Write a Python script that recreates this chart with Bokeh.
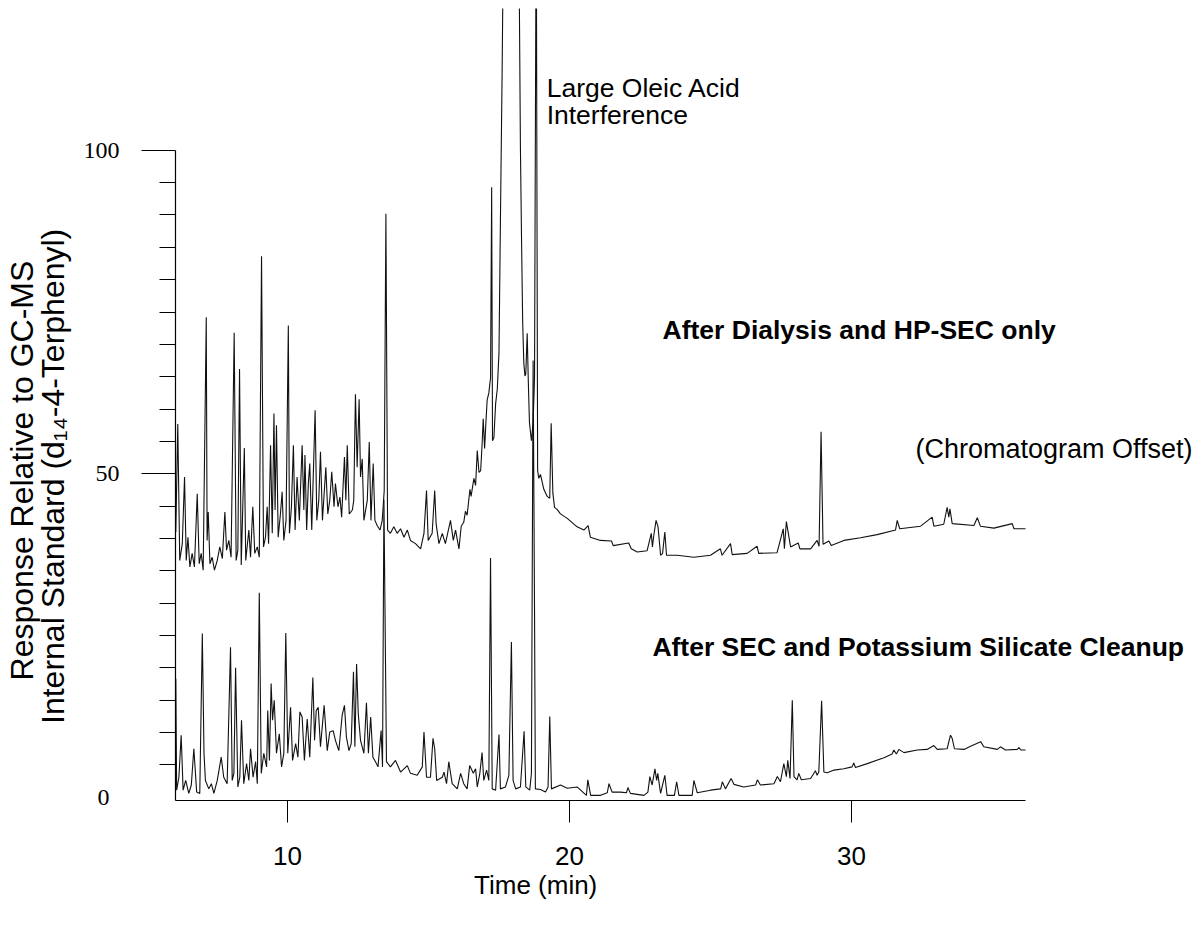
import math
from bokeh.plotting import figure
from bokeh.models import Range1d, FixedTicker, Label
from bokeh.embed import file_html
from bokeh.resources import INLINE

# ---------------- data (time in min, response) ----------------
# Upper chromatogram: "After Dialysis and HP-SEC only" (already shown with its display offset)
upper_trace = [
    (6.04, 41.0), (6.11, 57.7), (6.18, 36.6), (6.27, 39.2), (6.35, 49.5), (6.41, 36.6), (6.47, 40.2), (6.54, 35.6), (6.62, 37.7), (6.70, 35.6),
    (6.80, 46.9), (6.87, 36.1), (6.94, 37.7), (7.01, 35.1), (7.12, 74.2), (7.15, 39.7), (7.19, 44.1), (7.25, 36.1), (7.33, 37.1), (7.41, 35.1),
    (7.51, 36.6), (7.60, 38.7), (7.69, 36.9), (7.78, 44.1), (7.84, 38.2), (7.92, 39.7), (8.00, 37.1), (8.11, 71.8), (8.18, 36.6), (8.24, 38.2),
    (8.30, 66.2), (8.36, 35.9), (8.47, 54.0), (8.52, 36.6), (8.63, 41.3), (8.69, 37.1), (8.77, 44.9), (8.84, 37.7), (8.93, 38.7), (9.00, 37.1),
    (9.08, 83.6), (9.15, 38.7), (9.22, 40.2), (9.28, 44.9), (9.33, 39.2), (9.40, 54.4), (9.46, 40.8), (9.52, 59.3), (9.56, 44.4), (9.61, 57.5),
    (9.67, 40.2), (9.75, 43.8), (9.81, 47.2), (9.87, 39.7), (9.95, 42.8), (10.03, 72.9), (10.07, 40.8), (10.14, 44.9), (10.21, 54.4), (10.27, 41.3),
    (10.34, 49.5), (10.42, 42.8), (10.52, 54.4), (10.58, 44.4), (10.62, 52.9), (10.68, 41.3), (10.74, 48.5), (10.79, 51.6), (10.86, 41.3), (10.98, 59.8),
    (11.04, 42.8), (11.11, 45.9), (11.17, 53.4), (11.24, 42.8), (11.30, 46.9), (11.36, 51.0), (11.43, 43.8), (11.50, 45.9), (11.57, 50.3), (11.65, 44.9),
    (11.70, 48.5), (11.79, 44.9), (11.86, 46.4), (11.92, 43.3), (12.02, 52.6), (12.07, 45.9), (12.12, 54.4), (12.19, 43.8), (12.30, 44.4), (12.35, 45.9),
    (12.41, 62.3), (12.47, 51.0), (12.54, 61.5), (12.59, 49.5), (12.65, 52.3), (12.71, 42.8), (12.83, 45.9), (12.90, 54.9), (12.96, 42.8), (13.04, 51.6),
    (13.10, 42.8), (13.18, 42.0), (13.28, 41.3), (13.36, 42.8), (13.43, 47.4), (13.49, 90.2), (13.55, 41.3), (13.65, 40.8), (13.77, 41.8), (13.89, 40.8),
    (14.01, 41.5), (14.13, 40.2), (14.25, 41.3), (14.36, 39.7), (14.54, 39.2), (14.72, 38.4), (14.84, 40.8), (14.93, 47.4), (14.99, 39.7), (15.13, 40.8),
    (15.22, 47.4), (15.27, 42.3), (15.37, 39.2), (15.49, 40.8), (15.60, 39.2), (15.78, 42.8), (15.88, 39.7), (15.96, 41.3), (16.08, 38.4), (16.16, 41.9),
    (16.25, 42.5), (16.31, 44.2), (16.37, 43.6), (16.47, 47.6), (16.51, 46.5), (16.61, 49.3), (16.67, 48.2), (16.73, 53.6), (16.79, 50.2), (16.85, 50.5),
    (16.90, 54.5), (16.94, 58.5), (16.99, 53.9), (17.03, 57.4), (17.08, 61.4), (17.14, 62.5), (17.20, 64.8), (17.24, 94.3), (17.27, 55.1), (17.32, 55.6),
    (17.38, 60.8), (17.44, 63.1), (17.50, 68.8), (17.55, 88.8), (17.61, 111.7), (17.66, 135.0), (17.95, 180.0), (18.21, 130.0), (18.26, 100.3), (18.30, 86.0),
    (18.34, 73.4), (18.38, 67.1), (18.42, 65.1), (18.45, 65.4), (18.50, 71.7), (18.54, 64.2), (18.58, 57.9), (18.65, 55.1), (18.71, 57.9), (18.76, 64.8),
    (18.82, 140.0), (18.87, 50.5), (18.91, 49.3), (18.97, 49.9), (19.09, 47.6), (19.21, 46.5), (19.30, 46.2), (19.35, 57.8), (19.41, 47.0), (19.47, 44.8),
    (19.56, 44.5), (19.68, 43.8), (19.92, 43.1), (20.27, 41.8), (20.51, 41.3), (20.66, 42.0), (20.74, 40.2), (21.10, 39.7), (21.49, 39.6), (21.55, 38.9),
    (22.10, 39.3), (22.19, 38.4), (22.40, 37.9), (22.75, 38.1), (22.90, 40.8), (22.94, 38.7), (22.99, 40.5), (23.07, 42.8), (23.14, 41.8), (23.23, 37.4),
    (23.30, 37.7), (23.38, 41.0), (23.44, 37.4), (23.82, 37.4), (24.41, 37.1), (25.00, 37.4), (25.35, 38.4), (25.41, 37.4), (25.71, 39.2), (25.77, 37.5),
    (26.30, 37.7), (26.65, 38.8), (26.71, 37.7), (27.36, 37.8), (27.58, 41.5), (27.62, 38.4), (27.69, 42.6), (27.84, 38.7), (28.11, 39.3), (28.17, 38.4),
    (28.55, 38.4), (28.78, 39.7), (28.85, 38.8), (28.92, 56.5), (28.99, 39.1), (29.20, 39.6), (29.28, 38.9), (29.73, 39.7), (30.32, 40.1), (30.91, 40.6),
    (31.56, 41.3), (31.62, 42.8), (31.71, 41.5), (32.45, 41.9), (32.86, 43.3), (32.92, 41.9), (33.27, 42.2), (33.39, 44.8), (33.45, 43.3), (33.49, 44.6),
    (33.57, 42.3), (34.34, 42.0), (34.46, 43.2), (34.57, 41.9), (35.05, 41.6), (35.70, 42.3), (35.76, 41.5), (36.17, 41.5),
]

# Lower chromatogram: "After SEC and Potassium Silicate Cleanup"
lower_trace = [
    (6.04, 18.3), (6.07, 1.1), (6.15, 3.1), (6.23, 9.6), (6.30, 1.1), (6.39, 2.6), (6.50, 0.6), (6.59, 1.9), (6.68, 7.5), (6.78, 0.8),
    (6.89, 0.6), (6.98, 25.3), (7.04, 6.8), (7.09, 2.6), (7.21, 1.3), (7.30, 2.1), (7.39, 0.6), (7.51, 2.6), (7.65, 6.2), (7.74, 3.1),
    (7.86, 2.1), (7.98, 23.2), (8.04, 2.6), (8.10, 3.7), (8.16, 20.0), (8.24, 1.6), (8.31, 3.1), (8.37, 11.9), (8.45, 2.1), (8.55, 5.2),
    (8.63, 2.6), (8.69, 7.5), (8.78, 3.1), (8.87, 5.5), (8.93, 2.1), (9.00, 31.6), (9.07, 3.7), (9.16, 6.8), (9.26, 4.7), (9.30, 13.4),
    (9.36, 5.7), (9.42, 17.6), (9.47, 11.9), (9.53, 15.0), (9.61, 6.8), (9.71, 9.8), (9.79, 4.7), (9.87, 6.8), (9.94, 25.4), (10.01, 6.8),
    (10.11, 13.9), (10.18, 5.7), (10.29, 8.3), (10.37, 6.2), (10.44, 13.2), (10.52, 12.4), (10.60, 5.7), (10.70, 12.1), (10.79, 6.2), (10.90, 18.5),
    (10.96, 8.8), (11.02, 13.4), (11.09, 13.9), (11.17, 7.8), (11.30, 14.2), (11.41, 7.2), (11.50, 10.1), (11.62, 10.3), (11.70, 8.8), (11.82, 7.2),
    (11.94, 12.7), (12.02, 14.2), (12.09, 9.3), (12.18, 7.2), (12.26, 8.3), (12.34, 19.4), (12.39, 7.8), (12.45, 20.6), (12.51, 12.9), (12.59, 8.8),
    (12.71, 6.8), (12.80, 14.6), (12.87, 6.8), (12.95, 12.4), (13.03, 6.2), (13.12, 5.5), (13.21, 4.7), (13.32, 10.3), (13.37, 4.7), (13.42, 46.0),
    (13.51, 5.5), (13.65, 4.7), (13.83, 5.7), (14.01, 3.9), (14.25, 4.9), (14.36, 3.7), (14.60, 3.4), (14.78, 4.7), (14.84, 10.1), (14.93, 3.1),
    (15.07, 3.1), (15.16, 9.1), (15.22, 7.5), (15.29, 2.6), (15.49, 3.1), (15.55, 3.9), (15.64, 2.1), (15.72, 5.5), (15.84, 2.1), (16.02, 1.3),
    (16.14, 3.7), (16.25, 2.1), (16.37, 1.3), (16.46, 4.9), (16.59, 3.7), (16.67, 4.4), (16.73, 1.6), (16.82, 3.7), (16.90, 6.9), (16.96, 2.6),
    (17.06, 4.2), (17.14, 2.6), (17.20, 37.0), (17.26, 1.3), (17.38, 1.1), (17.50, 9.7), (17.55, 1.3), (17.73, 1.6), (17.85, 3.4), (17.94, 24.0),
    (18.00, 2.6), (18.09, 1.3), (18.26, 1.6), (18.39, 10.2), (18.45, 1.6), (18.59, 1.1), (18.65, 3.7), (18.71, 67.5), (18.76, 28.9), (18.79, 1.3),
    (18.97, 1.2), (19.15, 0.8), (19.24, 1.6), (19.30, 12.5), (19.36, 1.3), (19.68, 1.9), (19.92, 1.4), (20.27, 1.6), (20.60, 0.3), (20.65, 2.7),
    (20.75, 0.3), (21.10, 0.3), (21.34, 0.7), (21.40, 2.1), (21.51, 0.8), (21.81, 0.8), (22.02, 0.7), (22.07, 1.5), (22.16, 0.6), (22.64, 0.3),
    (22.78, 0.8), (22.85, 3.2), (22.93, 1.9), (23.03, 4.4), (23.09, 2.6), (23.13, 3.7), (23.23, 0.6), (23.38, 3.4), (23.46, 0.3), (23.72, 0.3),
    (23.80, 2.4), (23.88, 0.3), (24.35, 0.3), (24.41, 2.6), (24.53, 0.7), (25.00, 1.1), (25.36, 1.3), (25.42, 2.4), (25.53, 1.3), (25.73, 2.9),
    (25.83, 2.0), (26.18, 1.6), (26.60, 1.9), (26.66, 2.7), (26.77, 1.9), (27.25, 2.1), (27.37, 3.2), (27.48, 2.4), (27.60, 5.2), (27.69, 3.2),
    (27.74, 5.7), (27.82, 2.9), (27.90, 15.0), (27.96, 3.2), (28.07, 2.7), (28.13, 3.7), (28.22, 2.7), (28.55, 2.9), (28.72, 4.1), (28.78, 3.4),
    (28.84, 3.9), (28.94, 14.9), (29.02, 3.9), (29.14, 3.8), (29.38, 4.2), (29.73, 4.4), (30.02, 4.7), (30.08, 5.3), (30.14, 4.6), (30.56, 5.2),
    (31.15, 6.1), (31.44, 6.7), (31.50, 7.3), (31.59, 6.7), (31.68, 7.4), (31.86, 6.9), (32.33, 7.3), (32.68, 7.4), (32.92, 8.0), (33.04, 7.4),
    (33.39, 7.5), (33.51, 9.6), (33.57, 9.1), (33.65, 7.5), (33.99, 7.4), (34.22, 7.9), (34.58, 8.6), (34.69, 7.8), (35.17, 7.4), (35.28, 7.8),
    (35.46, 7.3), (35.88, 7.4), (35.94, 7.7), (36.00, 7.3), (36.17, 7.3),
]

x_ticks = [10, 20, 30]
y_major_ticks = [50, 100]
y_minor_ticks = [5, 10, 15, 20, 25, 30, 35, 40, 45, 55, 60, 65, 70, 75, 80, 85, 90, 95]

upper_time = [t for t, _ in upper_trace]
upper_resp = [v for _, v in upper_trace]
lower_time = [t for t, _ in lower_trace]
lower_resp = [v for _, v in lower_trace]

SANS = "Liberation Sans"
SERIF = "Liberation Serif"

T0, T1 = 6.03, 36.17      # recorded time span (x axis extent)
Y0, Y1 = -0.5, 100        # drawn extent of the response axis

# The plotting frame fills the canvas (below an 8 px top strip); the axes are pinned
# to the data origin with fixed_location so that text outside the axes is not clipped.
p = figure(
    width=1201, height=928,
    output_backend="svg", toolbar_location=None,
    x_range=Range1d(-0.176, 42.41), y_range=Range1d(-20.28, 121.91),
    min_border_left=0, min_border_right=0, min_border_top=8, min_border_bottom=0,
)
p.outline_line_color = None
p.background_fill_color = "white"
p.border_fill_color = "white"
p.xgrid.visible = False
p.ygrid.visible = False

p.line(upper_time, upper_resp, line_color="#111111", line_width=1.1)
p.line(lower_time, lower_resp, line_color="#111111", line_width=1.1)

# x axis
xa = p.xaxis[0]
xa.fixed_location = Y0
xa.bounds = (T0, T1)
xa.ticker = FixedTicker(ticks=x_ticks)
xa.axis_line_color = "black"
xa.axis_line_width = 1.2
xa.major_tick_line_color = "black"
xa.major_tick_out = 22
xa.major_tick_in = 0
xa.minor_tick_out = 0
xa.minor_tick_in = 0
xa.major_label_standoff = 24
xa.major_label_text_font = SANS
xa.major_label_text_font_size = "26px"
xa.major_label_text_color = "black"

# y axis
ya = p.yaxis[0]
ya.fixed_location = T0
ya.bounds = (Y0, Y1)
ya.ticker = FixedTicker(ticks=y_major_ticks, minor_ticks=y_minor_ticks)
ya.axis_line_color = "black"
ya.axis_line_width = 1.2
ya.major_tick_line_color = "black"
ya.minor_tick_line_color = "black"
ya.major_tick_out = 34
ya.major_tick_in = 0
ya.minor_tick_out = 16
ya.minor_tick_in = 0
ya.major_label_standoff = 22
ya.major_label_text_font = SERIF
ya.major_label_text_font_size = "24px"
ya.major_label_text_color = "black"

# "0" at the origin (the original has no tick mark there)
p.add_layout(Label(x=3.48, y=0, text="0", text_align="center", text_baseline="middle",
                   text_font=SERIF, text_font_size="24px", text_color="black"))

# axis titles
p.add_layout(Label(x=0.60, y=50.5, text="Response Relative to GC-MS", angle=math.pi / 2,
                   text_align="center", text_baseline="middle",
                   text_font=SANS, text_font_size="32px", text_color="black"))
p.add_layout(Label(x=1.67, y=49.6, text="Internal Standard (d\u2081\u2084-4-Terphenyl)", angle=math.pi / 2,
                   text_align="center", text_baseline="middle",
                   text_font=SANS, text_font_size="32px", text_color="black"))
p.add_layout(Label(x=18.80, y=-13.6, text="Time (min)", text_align="center", text_baseline="middle",
                   text_font=SANS, text_font_size="26px", text_color="black"))

# annotations
def note(x, y, text, size="26.5px", bold=False):
    p.add_layout(Label(x=x, y=y, text=text, text_align="left", text_baseline="middle",
                       text_font=SANS, text_font_size=size, text_color="black",
                       text_font_style="bold" if bold else "normal"))

note(19.19, 109.7, "Large Oleic Acid")
note(19.19, 105.4, "Interference")
note(23.30, 72.2, "After Dialysis and HP-SEC only", bold=True)
note(32.27, 53.8, "(Chromatogram Offset)", size="27px")
note(22.94, 23.3, "After SEC and Potassium Silicate Cleanup", bold=True)

open("out.html", "w").write(file_html(p, INLINE))
